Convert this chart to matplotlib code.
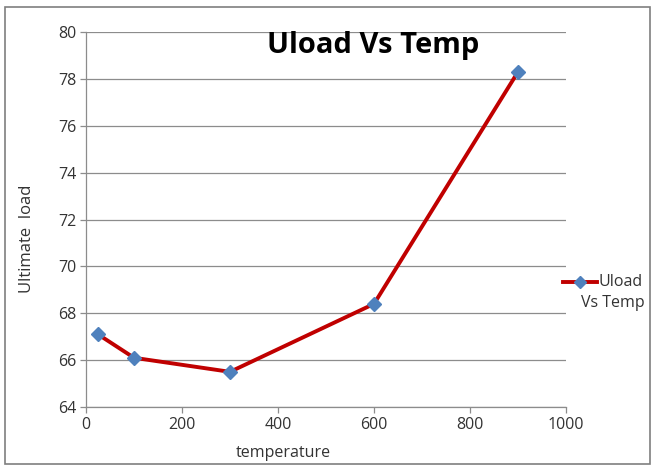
import matplotlib
matplotlib.use("Agg")
import matplotlib.pyplot as plt
import matplotlib.patches as mpatches
from matplotlib.lines import Line2D

# datos
temperatura = [25, 100, 300, 600, 900]
uload = [67.1, 66.1, 65.5, 68.4, 78.3]

plt.rcParams['font.family'] = ['Open Sans', 'DejaVu Sans']

fig = plt.figure(figsize=(6.55, 4.66), dpi=100)
ax = fig.add_axes([86 / 655, 1 - 407 / 466, 480 / 655, 375 / 466])

ax.plot(temperatura, uload, color='#c00000', linewidth=2.8,
        marker='D', markersize=7, markerfacecolor='#4f81bd',
        markeredgecolor='#4f81bd', zorder=3)

ax.set_xlim(0, 1000)
ax.set_ylim(64, 80)
ax.set_xticks(range(0, 1001, 200))
ax.set_yticks(range(64, 81, 2))
ax.grid(axis='y', color='#8c8c8c', linewidth=0.9)
ax.set_axisbelow(True)
for s in ['top', 'right']:
    ax.spines[s].set_visible(False)
for s in ['left', 'bottom']:
    ax.spines[s].set_color('#8c8c8c')
    ax.spines[s].set_linewidth(0.9)
ax.tick_params(colors='#8c8c8c', labelcolor='#333333', labelsize=11.5,
               length=4, width=0.9, direction='out', pad=3)

fig.text(27 / 655, 1 - 239 / 466, 'Ultimate  load', rotation=90,
         ha='center', va='center', fontsize=12, color='#333333')
fig.text(283 / 655, 1 - 453 / 466, 'temperature', ha='center',
         va='center', fontsize=11.5, color='#333333')
fig.text(373 / 655, 1 - 45 / 466, 'Uload Vs Temp', ha='center',
         va='center', fontsize=21, fontweight='bold', color='black')

# leyenda manual
fig.add_artist(Line2D([563 / 655, 597 / 655], [1 - 282 / 466, 1 - 282 / 466],
                      color='#c00000', linewidth=2.8))
fig.add_artist(Line2D([580 / 655], [1 - 282 / 466], marker='D', markersize=6,
                      color='#4f81bd', linestyle='none'))
fig.text(599 / 655, 1 - 282 / 466, 'Uload', ha='left', va='center',
         fontsize=11.5, color='#333333')
fig.text(581 / 655, 1 - 303 / 466, 'Vs Temp', ha='left', va='center',
         fontsize=11.5, color='#333333')

fig.add_artist(mpatches.Rectangle((5 / 655, 2 / 466), 645 / 655, 457 / 466,
                                  fill=False, edgecolor='#7f7f7f',
                                  linewidth=1.2, transform=fig.transFigure))

plt.savefig('out.png', dpi=100)
